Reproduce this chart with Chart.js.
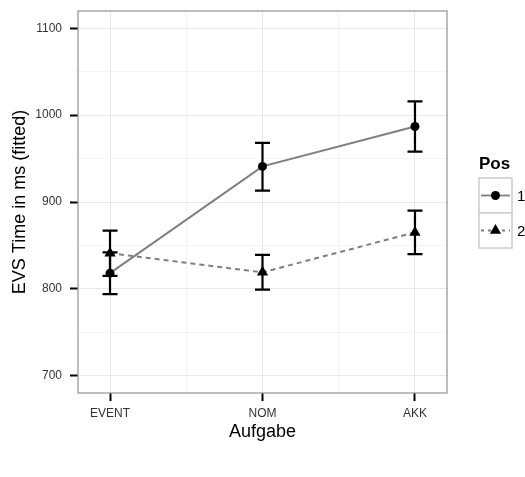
<!DOCTYPE html>
<html>
<head>
<meta charset="utf-8">
<script src="https://cdn.jsdelivr.net/npm/chart.js@4/dist/chart.umd.min.js"></script>
<style>
  html, body { margin: 0; padding: 0; background: #fff; }
  canvas { display: block; }
</style>
</head>
<body>
<canvas id="evsChart" width="525" height="477"></canvas>
<script>
// Data
const categories = ['EVENT', 'NOM', 'AKK'];
const positions = ['1', '2'];

const pos1Values = [818, 941, 987];
const pos1Lower = [794, 913, 958];
const pos1Upper = [842, 968, 1016];

const pos2Values = [841, 819, 865];
const pos2Lower = [815, 799, 840];
const pos2Upper = [867, 839, 890];

const yTicks = [700, 750, 800, 850, 900, 950, 1000, 1050, 1100];
const xTicks = [0, 0.5, 1, 1.5, 2];

const FONT = 'Liberation Sans, Arial, Helvetica, sans-serif';
const toPoints = (vals) => vals.map((v, i) => ({ x: i, y: v }));

// error bars, drawn from the same arrays through the chart scales
const errorBarPlugin = {
  id: 'errorBars',
  afterDatasetsDraw(chart) {
    const { ctx, scales: { x, y } } = chart;
    const sets = [[pos1Lower, pos1Upper], [pos2Lower, pos2Upper]];
    ctx.save();
    ctx.strokeStyle = '#000';
    ctx.lineWidth = 2.2;
    sets.forEach(([lo, hi]) => {
      lo.forEach((l, i) => {
        const px = x.getPixelForValue(i);
        const y1 = y.getPixelForValue(l);
        const y2 = y.getPixelForValue(hi[i]);
        ctx.beginPath();
        ctx.moveTo(px, y1); ctx.lineTo(px, y2);
        ctx.moveTo(px - 7.5, y1); ctx.lineTo(px + 7.5, y1);
        ctx.moveTo(px - 7.5, y2); ctx.lineTo(px + 7.5, y2);
        ctx.stroke();
      });
    });
    ctx.restore();
  },
};

// panel border + ggplot style legend
const panelPlugin = {
  id: 'panel',
  afterDraw(chart) {
    const { ctx, chartArea: a } = chart;
    ctx.save();
    ctx.strokeStyle = '#9a9a9a';
    ctx.lineWidth = 1.3;
    ctx.strokeRect(a.left, a.top, a.right - a.left, a.bottom - a.top);

    // legend
    const lx = 479, kw = 33, kh = 35, top = 178;
    ctx.fillStyle = '#000';
    ctx.font = 'bold 17px ' + FONT;
    ctx.textBaseline = 'alphabetic';
    ctx.textAlign = 'left';
    ctx.fillText('Pos', lx, 169);

    positions.forEach((p, i) => {
      const by = top + i * kh;
      const cy = by + kh / 2;
      ctx.fillStyle = '#fff';
      ctx.fillRect(lx, by, kw, kh);
      ctx.strokeStyle = '#cccccc';
      ctx.lineWidth = 1.5;
      ctx.setLineDash([]);
      ctx.strokeRect(lx, by, kw, kh);

      ctx.strokeStyle = '#7f7f7f';
      ctx.lineWidth = 1.8;
      ctx.setLineDash(i === 1 ? [3, 4] : []);
      ctx.beginPath();
      ctx.moveTo(lx + 2, cy); ctx.lineTo(lx + kw - 2, cy);
      ctx.stroke();
      ctx.setLineDash([]);

      ctx.fillStyle = '#000';
      ctx.beginPath();
      if (i === 0) {
        ctx.arc(lx + kw / 2, cy, 4.5, 0, Math.PI * 2);
      } else {
        const r = 6.5, cx = lx + kw / 2;
        ctx.moveTo(cx, cy - r);
        ctx.lineTo(cx + r * 0.866, cy + r / 2);
        ctx.lineTo(cx - r * 0.866, cy + r / 2);
        ctx.closePath();
      }
      ctx.fill();

      ctx.font = '15px ' + FONT;
      ctx.textBaseline = 'middle';
      ctx.fillText(p, lx + kw + 5, cy + 1);
    });
    ctx.restore();
  },
};

const ctx = document.getElementById('evsChart').getContext('2d');
new Chart(ctx, {
  type: 'line',
  data: {
    datasets: [
      {
        label: '1',
        data: toPoints(pos1Values),
        borderColor: '#7f7f7f',
        borderWidth: 2,
        pointStyle: 'circle',
        pointRadius: 4.5,
        pointBackgroundColor: '#000',
        pointBorderWidth: 0,
        tension: 0,
      },
      {
        label: '2',
        data: toPoints(pos2Values),
        borderColor: '#7f7f7f',
        borderWidth: 2,
        borderDash: [5, 4],
        pointStyle: 'triangle',
        pointRadius: 6.5,
        pointBackgroundColor: '#000',
        pointBorderWidth: 0,
        tension: 0,
      },
    ],
  },
  options: {
    responsive: false,
    animation: false,
    layout: { padding: { left: 0, right: 78, top: 11, bottom: 0 } },
    plugins: { legend: { display: false }, tooltip: { enabled: false } },
    scales: {
      x: {
        type: 'linear',
        min: -0.21,
        max: 2.21,
        afterBuildTicks: (s) => { s.ticks = xTicks.map((v) => ({ value: v })); },
        afterFit: (s) => { s.height = 84; s.paddingLeft = 0; s.paddingRight = 0; },
        border: { display: false },
        grid: {
          color: (c) => (Number.isInteger(c.tick.value) ? '#e8e8e8' : '#f4f4f4'),
          tickColor: (c) => (Number.isInteger(c.tick.value) ? '#000' : 'rgba(0,0,0,0)'),
          tickLength: 8,
          tickWidth: 2,
          lineWidth: 1,
        },
        ticks: {
          autoSkip: false,
          maxRotation: 0,
          padding: 5,
          color: '#333',
          font: { family: FONT, size: 12 },
          callback: (v) => (Number.isInteger(v) ? categories[v] : ''),
        },
        title: {
          display: true,
          text: 'Aufgabe',
          color: '#000',
          font: { family: FONT, size: 18 },
          padding: { top: 0, bottom: 34 },
        },
      },
      y: {
        min: 680,
        max: 1120,
        afterBuildTicks: (s) => { s.ticks = yTicks.map((v) => ({ value: v })); },
        afterFit: (s) => { s.width = 78; s.paddingTop = 0; s.paddingBottom = 0; },
        border: { display: false },
        grid: {
          color: (c) => (c.tick.value % 100 === 0 ? '#e8e8e8' : '#f4f4f4'),
          tickColor: (c) => (c.tick.value % 100 === 0 ? '#000' : 'rgba(0,0,0,0)'),
          tickLength: 8,
          tickWidth: 2,
          lineWidth: 1,
        },
        ticks: {
          autoSkip: false,
          padding: 8,
          color: '#333',
          font: { family: FONT, size: 12 },
          callback: (v) => (v % 100 === 0 ? String(v) : ''),
        },
        title: {
          display: true,
          text: 'EVS Time in ms (fitted)',
          color: '#000',
          font: { family: FONT, size: 18 },
          padding: { top: 9, bottom: 0 },
        },
      },
    },
  },
  plugins: [errorBarPlugin, panelPlugin],
});
</script>
</body>
</html>
